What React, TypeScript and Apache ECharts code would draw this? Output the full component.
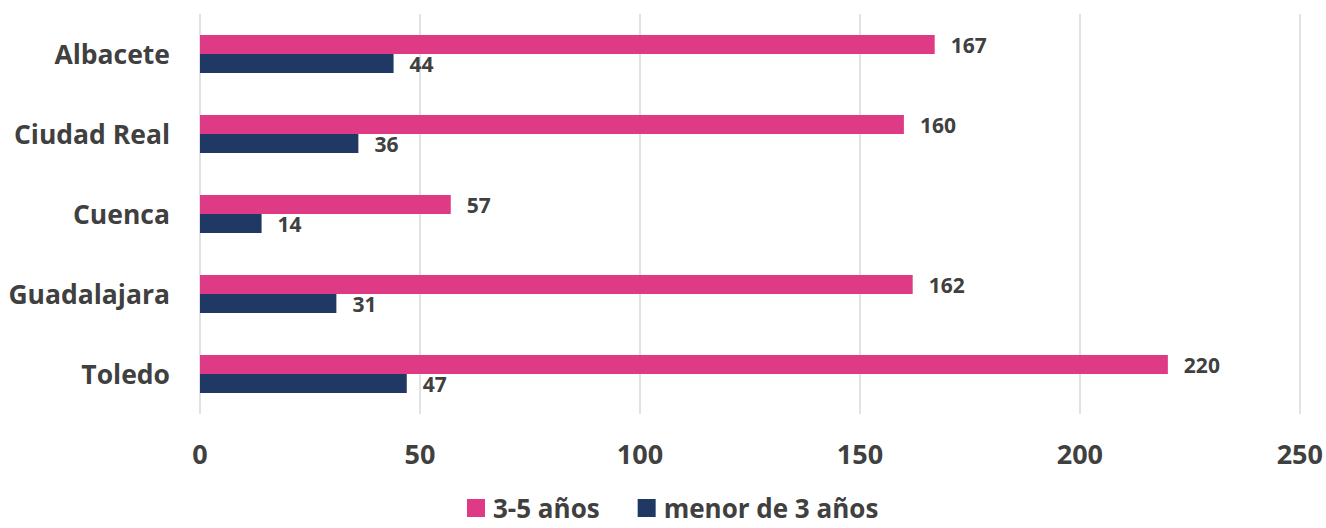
import React, { useEffect, useRef } from "react";
import * as echarts from "echarts";

const categories = ["Albacete", "Ciudad Real", "Cuenca", "Guadalajara", "Toledo"];
const series35 = [167, 160, 57, 162, 220];
const seriesMenor3 = [44, 36, 14, 31, 47];
const seriesNames = ["3-5 años", "menor de 3 años"];

const FONT = "'Open Sans', 'Liberation Sans', sans-serif";
const TEXT = "#404040";

export default function App() {
  const ref = useRef<HTMLDivElement>(null);
  useEffect(() => {
    const chart = echarts.init(ref.current!, null, { renderer: "svg" });
    const label = {
      show: true,
      position: "right" as const,
      distance: 16,
      color: TEXT,
      fontFamily: FONT,
      fontWeight: "bold" as const,
      fontSize: 21,
    };
    chart.setOption({
      animation: false,
      textStyle: { fontFamily: FONT },
      grid: { left: 200, right: 26, top: 14, bottom: 114, containLabel: false },
      legend: {
        top: 490,
        left: 462,
        itemWidth: 18,
        itemHeight: 18,
        itemGap: 38,
        icon: "rect",
        textStyle: {
          color: TEXT,
          fontFamily: FONT,
          fontWeight: "bold",
          fontSize: 26,
          padding: [0, 0, 0, 3],
        },
        data: seriesNames,
      },
      xAxis: {
        type: "value",
        min: 0,
        max: 250,
        interval: 50,
        axisLine: { show: false },
        axisTick: { show: false },
        splitLine: { show: true, lineStyle: { color: "#d9d9d9", width: 1.5 } },
        axisLabel: { color: TEXT, fontFamily: FONT, fontWeight: "bold", fontSize: 27, margin: 26 },
      },
      yAxis: {
        type: "category",
        inverse: true,
        data: categories,
        axisLine: { show: false },
        axisTick: { show: false },
        axisLabel: { color: TEXT, fontFamily: FONT, fontWeight: "bold", fontSize: 26.5, margin: 30 },
      },
      series: [
        {
          name: seriesNames[0],
          type: "bar",
          data: series35,
          itemStyle: { color: "#de3a85" },
          barWidth: 19,
          barGap: "0%",
          label,
        },
        {
          name: seriesNames[1],
          type: "bar",
          data: seriesMenor3,
          itemStyle: { color: "#203864" },
          barWidth: 19,
          barGap: "0%",
          label,
        },
      ],
    });
    return () => chart.dispose();
  }, []);
  return (
    <div
      ref={ref}
      style={{ position: "absolute", left: 0, top: 0, width: 1326, height: 528 }}
    />
  );
}
